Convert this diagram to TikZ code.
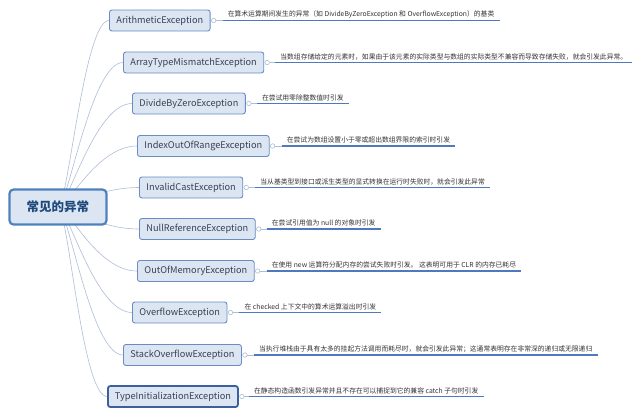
\documentclass[tikz,border=0pt]{standalone}
\usepackage{fontspec}
\newfontfamily\cjk{Noto Sans CJK SC}
\usetikzlibrary{backgrounds}

\definecolor{boxfill}{RGB}{220,230,242}
\definecolor{boxline}{RGB}{105,140,195}
\definecolor{rootline}{RGB}{79,129,189}
\definecolor{rootink}{RGB}{31,73,125}
\definecolor{boxink}{RGB}{55,65,85}
\definecolor{branchline}{RGB}{175,190,215}
\definecolor{noteline}{RGB}{80,120,190}
\definecolor{pickline}{RGB}{60,95,160}

\tikzset{
  root/.style={draw=rootline, line width=2.2pt, fill=boxfill, rounded corners=4pt,
    minimum width=97pt, minimum height=35pt,
    font=\cjk\fontsize{12.5}{14}\selectfont\bfseries, text=rootink},
  exc/.style={draw=boxline, line width=0.9pt, fill=boxfill, rounded corners=2.5pt,
    minimum height=21pt, inner xsep=7pt, anchor=west,
    font=\cjk\fontsize{9.2}{11}\selectfont, text=boxink},
  picked/.style={draw=pickline, line width=1.8pt},
  note/.style={anchor=south west, inner xsep=5pt, inner ysep=2.5pt,
    font=\cjk\fontsize{6.8}{8}\selectfont, text=black!80},
  branch/.style={draw=branchline, line width=0.6pt},
  underline/.style={draw=noteline, line width=1.1pt},
  knob/.style={circle, draw=branchline, fill=white, inner sep=0pt,
    minimum size=4.5pt, line width=0.6pt}
}

\begin{document}
\begin{tikzpicture}[x=1pt,y=-1pt]
  \useasboundingbox (0,0) rectangle (640,415);

  % main topic and the exceptions
  \node[root] (root) at (58,207) {常见的异常};
  \node[exc] (arith)    at (109,20.5)  {ArithmeticException};
  \node[exc] (array)    at (123,62.5)  {ArrayTypeMismatchException};
  \node[exc] (divide)   at (132,103.5) {DivideByZeroException};
  \node[exc] (index)    at (137,146)   {IndexOutOfRangeException};
  \node[exc] (invalid)  at (139,187.5) {InvalidCastException};
  \node[exc] (nullref)  at (139,229)   {NullReferenceException};
  \node[exc] (oom)      at (137,271)   {OutOfMemoryException};
  \node[exc] (overflow) at (132,312.5) {OverflowException};
  \node[exc] (stack)    at (123,355)   {StackOverflowException};
  \node[exc,picked] (typeinit) at (107,396.5) {TypeInitializationException};

  % notes
  \node[note] (arith-note)    at ([xshift=12pt]arith.east)    {在算术运算期间发生的异常（如 DivideByZeroException 和 OverflowException）的基类};
  \node[note] (array-note)    at ([xshift=11pt]array.east)    {当数组存储给定的元素时，如果由于该元素的实际类型与数组的实际类型不兼容而导致存储失败，就会引发此异常。};
  \node[note] (divide-note)   at ([xshift=11pt]divide.east)   {在尝试用零除整数值时引发};
  \node[note] (index-note)    at ([xshift=12pt]index.east)    {在尝试为数组设置小于零或超出数组界限的索引时引发};
  \node[note] (invalid-note)  at ([xshift=12pt]invalid.east)  {当从基类型到接口或派生类型的显式转换在运行时失败时，就会引发此异常};
  \node[note] (nullref-note)  at ([xshift=11pt]nullref.east)  {在尝试引用值为 null 的对象时引发};
  \node[note] (oom-note)      at ([xshift=12pt]oom.east)      {在使用 new 运算符分配内存的尝试失败时引发。 这表明可用于 CLR 的内存已耗尽};
  \node[note] (overflow-note) at ([xshift=12pt]overflow.east) {在 checked 上下文中的算术运算溢出时引发};
  \node[note] (stack-note)    at ([xshift=12pt]stack.east)    {当执行堆栈由于具有太多的挂起方法调用而耗尽时，就会引发此异常；这通常表明存在非常深的递归或无限递归};
  \node[note] (typeinit-note) at ([xshift=10pt]typeinit.east) {在静态构造函数引发异常并且不存在可以捕捉到它的兼容 catch 子句时引发};

  \foreach \n in {arith,array,divide,index,invalid,nullref,oom,overflow,stack,typeinit} {
    \node[knob] (\n-knob) at ([xshift=3pt]\n.east) {};
    \draw[branch] (\n-knob) -- (\n-note.south west);
    \draw[underline] (\n-note.south west) -- (\n-note.south east);
  }

  % branches behind the boxes
  \begin{pgfonlayer}{background}
    \fill[white] (0,0) rectangle (640,415);
    \foreach \n/\c in {arith/25,array/32,divide/37,index/40,invalid/40,
                       nullref/40,oom/40,overflow/37,stack/32,typeinit/25}
      \draw[branch] (root.center) .. controls +(10,0) and +(-\c,0) .. (\n.west);
  \end{pgfonlayer}
\end{tikzpicture}
\end{document}
